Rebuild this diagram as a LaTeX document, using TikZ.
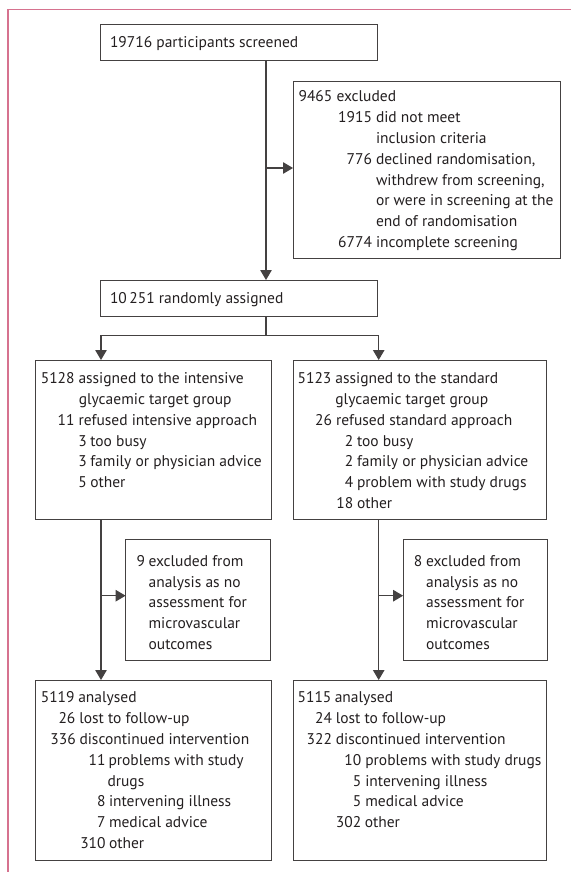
\documentclass[tikz,border=0pt]{standalone}
\usepackage{fontspec}
\setmainfont{PT Sans}
\usetikzlibrary{arrows.meta}
\definecolor{ink}{HTML}{231F20}
\definecolor{framecol}{HTML}{D6728F}
\newcounter{tlc}
\newcommand{\tl}[5]{% numright, textleft, baseline, number, text
  \stepcounter{tlc}%
  \node[txt, anchor=base east] (n\thetlc) at (#1,#3) {#4};
  \node[txt, anchor=base west] (t\thetlc) at (#2,#3) {#5};}
\newcommand{\tc}[3]{% textleft, baseline, text
  \stepcounter{tlc}%
  \node[txt, anchor=base west] (t\thetlc) at (#1,#2) {#3};}
\tikzset{
  txt/.style={inner sep=0pt, outer sep=0pt, text=ink, font=\fontsize{15.5bp}{18bp}\selectfont},
  box/.style={draw=ink!85, line width=1bp, inner sep=0pt, outer sep=0pt, rectangle},
  arr/.style={draw=ink!85, line width=1.1bp, -{Triangle[length=10bp,width=11.5bp]}},
  ln/.style={draw=ink!85, line width=1.1bp},
}
\begin{document}
\begin{tikzpicture}[x=1bp,y=-1bp]
\useasboundingbox (0,0) rectangle (571,872);
\fill[white] (0,0) rectangle (571,872);
\draw[framecol, line width=1.2bp] (8,872) -- (8,9.5) -- (571,9.5);

% boxes
\node[box, minimum width=276bp, minimum height=36bp] (screen) at (239,42) {};
\node[box, minimum width=267bp, minimum height=177bp] (excl) at (426.5,169.5) {};
\node[box, minimum width=276bp, minimum height=36bp] (rand) at (239,298) {};
\node[box, minimum width=236bp, minimum height=159.3bp] (intens) at (153.2,439.65) {};
\node[box, minimum width=253bp, minimum height=159.3bp] (stand) at (419.6,439.65) {};
\node[box, minimum width=144.6bp, minimum height=120.7bp] (exL) at (197.9,599.65) {};
\node[box, minimum width=144.2bp, minimum height=120.7bp] (exR) at (475.2,599.65) {};
\node[box, minimum width=236bp, minimum height=180.7bp] (anL) at (153.2,770.35) {};
\node[box, minimum width=253bp, minimum height=180.7bp] (anR) at (419.6,770.35) {};

% connectors
\coordinate (sx) at (266,0);
\coordinate (lx) at (101,0);
\coordinate (rx) at (378.7,0);
\coordinate (j1) at (266,168);
\coordinate (sp) at (266,335.7);
\coordinate (j2) at (101,595.7);
\coordinate (j3) at (378.7,595.7);
\draw[arr] (screen.south -| sx) -- (rand.north -| sx);
\draw[arr] (j1) -- (j1 -| excl.west);
\draw[ln] (rand.south -| sx) -- (sp);
\draw[arr] (sp) -| (intens.north -| lx);
\draw[arr] (sp) -| (stand.north -| rx);
\draw[arr] (intens.south -| lx) -- (anL.north -| lx);
\draw[arr] (j2) -- (j2 -| exL.west);
\draw[arr] (stand.south -| rx) -- (anR.north -| rx);
\draw[arr] (j3) -- (j3 -| exR.west);

% texts
\tc{110}{47.5}{19716 participants screened}
\tc{298.6}{101.2}{9465 excluded}
\tl{372}{376}{122.2}{1915}{did not meet}
\tc{376}{143.2}{inclusion criteria}
\tl{372}{376}{164.2}{776}{declined randomisation,}
\tc{376}{185.5}{withdrew from screening,}
\tc{376}{205.5}{or were in screening at the}
\tc{376}{226.2}{end of randomisation}
\tl{372}{376}{247.2}{6774}{incomplete screening}

\tc{110}{303.5}{10\,251 randomly assigned}

\tl{74.6}{78.5}{383.2}{5128}{assigned to the intensive}
\tc{78.8}{404.5}{glycaemic target group}
\tl{74.6}{78.5}{425.5}{11}{refused intensive approach}
\tl{86.7}{90.3}{446.2}{3}{too busy}
\tl{86.7}{90.3}{466.5}{3}{family or physician advice}
\tl{86.7}{90.3}{487.2}{5}{other}

\tl{331.4}{335.4}{383.2}{5123}{assigned to the standard}
\tc{335.4}{404.5}{glycaemic target group}
\tl{332}{336}{425.5}{26}{refused standard approach}
\tl{353.2}{357}{446.2}{2}{too busy}
\tl{353.2}{357}{466.5}{2}{family or physician advice}
\tl{353.2}{357}{487.2}{4}{problem with study drugs}
\tl{353.2}{357}{508}{18}{other}

\tl{145}{148.6}{566.2}{9}{excluded from}
\tc{148.6}{587}{analysis as no}
\tc{148.6}{607.2}{assessment for}
\tc{148.6}{628.2}{microvascular}
\tc{148.6}{649.2}{outcomes}

\tl{422.4}{426.1}{566.2}{8}{excluded from}
\tc{426.1}{587}{analysis as no}
\tc{426.1}{607.2}{assessment for}
\tc{426.1}{628.2}{microvascular}
\tc{426.1}{649.2}{outcomes}

\tl{74.6}{78.3}{702.2}{5119}{analysed}
\tl{75.4}{79.3}{723.2}{26}{lost to follow-up}
\tl{75.8}{79.5}{744.2}{336}{discontinued intervention}
\tl{105.6}{108.5}{765.5}{11}{problems with study}
\tc{107.5}{786.2}{drugs}
\tl{105.6}{109}{806.2}{8}{intervening illness}
\tl{105.6}{109}{827.2}{7}{medical advice}
\tl{105.6}{109}{848.2}{310}{other}

\tl{331.4}{334.8}{702.2}{5115}{analysed}
\tl{332}{335.8}{723.2}{24}{lost to follow-up}
\tl{332}{335.8}{744.2}{322}{discontinued intervention}
\tl{361.2}{365.3}{765.5}{10}{problems with study drugs}
\tl{361.2}{365.3}{786.2}{5}{intervening illness}
\tl{361.2}{365.3}{806.2}{5}{medical advice}
\tl{361.2}{364.8}{827.2}{302}{other}
\end{tikzpicture}
\end{document}
